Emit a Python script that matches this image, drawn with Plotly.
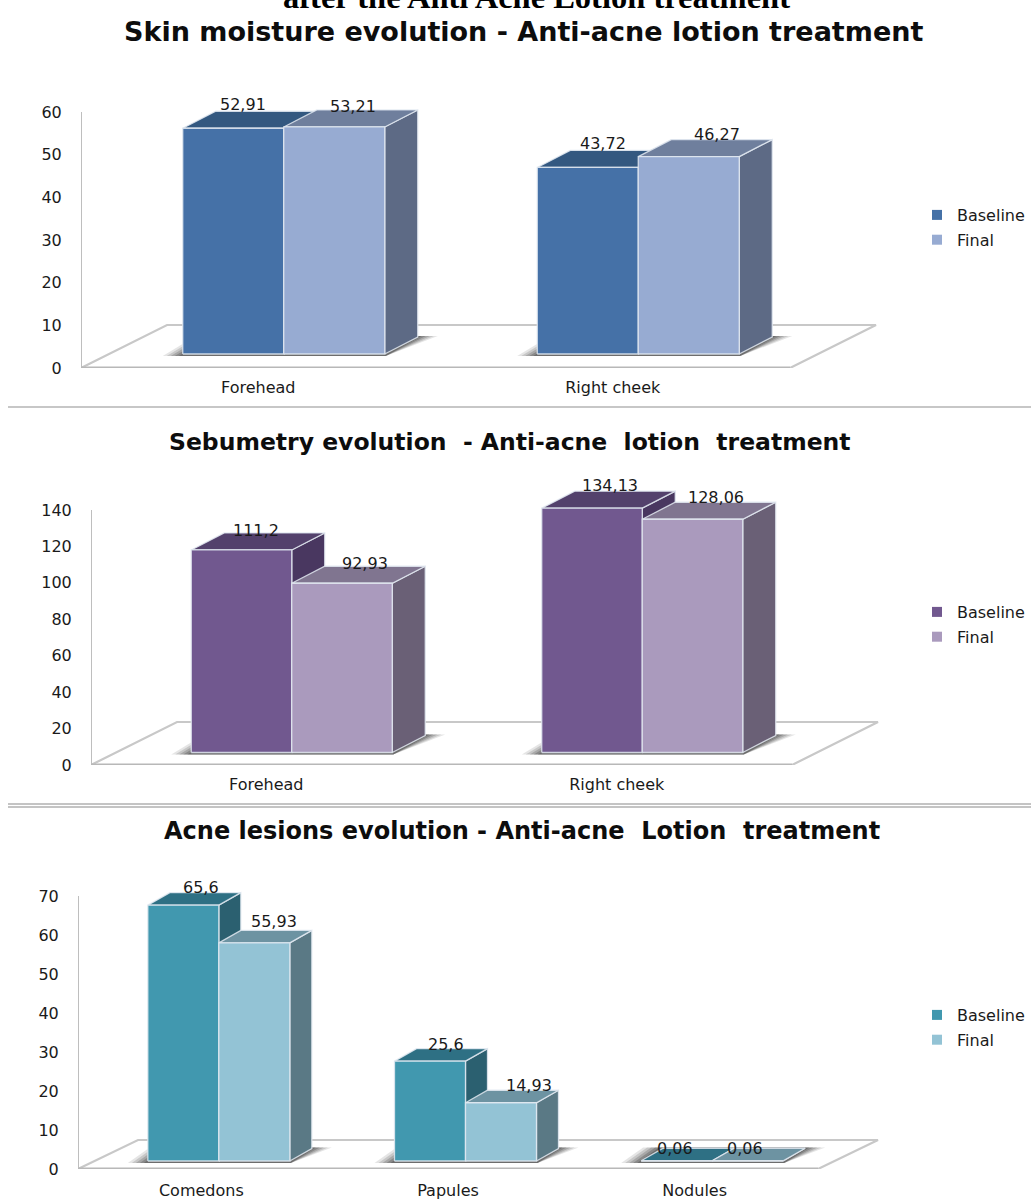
import plotly.graph_objects as go

WIDTH, HEIGHT = 1031, 1203
SANS = "DejaVu Sans"
TEXT_SIZE = 16

# Values per panel
moisture_categories = ["Forehead", "Right cheek"]
moisture_baseline = [52.91, 43.72]
moisture_final = [53.21, 46.27]

sebum_categories = ["Forehead", "Right cheek"]
sebum_baseline = [111.2, 134.13]
sebum_final = [92.93, 128.06]

lesion_categories = ["Comedons", "Papules", "Nodules"]
lesion_baseline = [65.6, 25.6, 0.06]
lesion_final = [55.93, 14.93, 0.06]

moisture_ticks = [0, 10, 20, 30, 40, 50, 60]
sebum_ticks = [0, 20, 40, 60, 80, 100, 120, 140]
lesion_ticks = [0, 10, 20, 30, 40, 50, 60, 70]

# Panel geometry in page pixels, and the colour of each bar face
PANELS = [
    dict(cats=moisture_categories, base=moisture_baseline, final=moisture_final, ticks=moisture_ticks,
         title="Skin moisture evolution - Anti-acne lotion treatment", title_y=31, title_x=523, title_size=27,
         left=81, right=790, top=112, bottom=368,
         floor_dx=86, floor_dy=43, bar_w=101, bar_shift=25.5, bar_lift=14, depth_x=33, depth_y=17,
         legend_y=198, tick_len=5,
         label_shift=[[(10, 24), (15, 24)], [(19, 20), (28, 22)]],
         c=dict(b_front="#4571A7", b_top="#335880", b_side="#2F5078",
                f_front="#97ABD2", f_top="#6F7F9D", f_side="#5D6A85")),
    dict(cats=sebum_categories, base=sebum_baseline, final=sebum_final, ticks=sebum_ticks,
         title="Sebumetry evolution\u00a0 - Anti-acne\u00a0 lotion\u00a0 treatment", title_y=442, title_x=510, title_size=23.5,
         left=91, right=792, top=510, bottom=765,
         floor_dx=86, floor_dy=43, bar_w=100.5, bar_shift=25.5, bar_lift=12.5, depth_x=33, depth_y=17,
         legend_y=595, tick_len=5,
         label_shift=[[(14, 19), (18, 23)], [(23, 20), (23, 22)]],
         c=dict(b_front="#71588F", b_top="#53416C", b_side="#493760",
                f_front="#AA9ABD", f_top="#807590", f_side="#6A6076")),
    dict(cats=lesion_categories, base=lesion_baseline, final=lesion_final, ticks=lesion_ticks,
         title="Acne lesions evolution - Anti-acne\u00a0 Lotion\u00a0 treatment", title_y=831, title_x=522, title_size=24,
         left=78, right=818, top=896, bottom=1169,
         floor_dx=60, floor_dy=29, bar_w=71, bar_shift=17.5, bar_lift=8, depth_x=22, depth_y=12.5,
         legend_y=998, tick_len=7,
         label_shift=[[(18, 18), (16, 17), (-2, 12)], [(20, 21), (28, 17), (-3, 12)]],
         c=dict(b_front="#4198AF", b_top="#2E7084", b_side="#2B6070",
                f_front="#93C3D5", f_top="#6D93A2", f_side="#5A7985")),
]

# Room kept inside each axes rectangle for the 3-D overhang
PAD_TOP_PX, PAD_RIGHT_PX = 45, 100

fig = go.Figure()
shapes, annotations, layout_axes = [], [], {}
OUTLINE = "rgba(226,233,241,0.85)"


def polygon(points, fill, xa, ya, line=OUTLINE, width=1.3):
    """Filled closed polygon in data coordinates."""
    xs = [p[0] for p in points] + [points[0][0]]
    ys = [p[1] for p in points] + [points[0][1]]
    fig.add_trace(go.Scatter(
        x=xs, y=ys, mode="lines", fill="toself", fillcolor=fill,
        line=dict(color=line, width=width), hoverinfo="skip", showlegend=False, xaxis=xa, yaxis=ya))


def polyline(xs, ys, colour, width, xa, ya):
    fig.add_trace(go.Scatter(
        x=xs, y=ys, mode="lines", line=dict(color=colour, width=width),
        hoverinfo="skip", showlegend=False, xaxis=xa, yaxis=ya))


for i, p in enumerate(PANELS):
    n = i + 1
    xa, ya = f"x{n if n > 1 else ''}", f"y{n if n > 1 else ''}"
    ncat = len(p["cats"])
    ymax = p["ticks"][-1]
    ux = (p["right"] - p["left"]) / ncat   # pixels per category
    uy = (p["bottom"] - p["top"]) / ymax   # pixels per value unit
    fx, fy = p["floor_dx"] / ux, p["floor_dy"] / uy
    w, shift, lift = p["bar_w"] / ux, p["bar_shift"] / ux, p["bar_lift"] / uy
    dx, dy = p["depth_x"] / ux, p["depth_y"] / uy

    # Wall edge and floor of the 3-D plot area
    polyline([0, 0], [0, ymax], "#BEBEBE", 2, xa, ya)
    polyline([0, fx, ncat + fx, ncat], [0, fy, fy, 0], "#C8C8C8", 2.2, xa, ya)
    polyline([0, ncat], [0, 0], "#B8B8B8", 3, xa, ya)

    for k in range(ncat):
        x_mid = k + 0.5 + shift
        b, f = p["base"][k], p["final"][k]
        x0, x1, x2 = x_mid - w, x_mid, x_mid + w
        c = p["c"]

        # Soft contact shadow: the footprint skewed outwards, darker towards the bars
        for grow, alpha in ((1.0, 0.12), (0.8, 0.16), (0.6, 0.2), (0.4, 0.25), (0.2, 0.3)):
            ox = grow * 20 / ux
            low = 2 / uy
            polygon([(x0 - ox, lift - low), (x2 + 1 / ux, lift - low),
                     (x2 + dx + ox, lift + dy + 1 / uy), (x0 - ox + dx, lift + dy + 1 / uy)],
                    f"rgba(45,45,45,{alpha})", xa, ya, line="rgba(0,0,0,0)", width=0)

        # Back-to-front painting so the nearer faces cover the farther ones
        def slab(xl, xr, val, top, side):
            y = lift + val
            polygon([(xr, lift), (xr + dx, lift + dy), (xr + dx, y + dy), (xr, y)], side, xa, ya)
            polygon([(xl, y), (xr, y), (xr + dx, y + dy), (xl + dx, y + dy)], top, xa, ya)

        slab(x0, x1, b, c["b_top"], c["b_side"])
        slab(x1, x2, f, c["f_top"], c["f_side"])
        polygon([(x0, lift), (x1, lift), (x1, lift + b), (x0, lift + b)], c["b_front"], xa, ya)
        polygon([(x1, lift), (x2, lift), (x2, lift + f), (x1, lift + f)], c["f_front"], xa, ya)

        # Value labels
        for s, (val, cx) in enumerate(((b, x_mid - w / 2), (f, x_mid + w / 2))):
            sx, sy = p["label_shift"][s][k]
            annotations.append(dict(
                x=cx, y=lift + val, xref=xa, yref=ya, text=f"{val}".replace(".", ","),
                showarrow=False, xanchor="center", yanchor="middle", xshift=sx, yshift=sy,
                font=dict(family=SANS, size=TEXT_SIZE, color="#1a1a1a")))

    # Legend swatches
    legend_name = "legend" if n == 1 else f"legend{n}"
    for name, colour in (("Baseline", p["c"]["b_front"]), ("Final", p["c"]["f_front"])):
        fig.add_trace(go.Scatter(
            x=[None], y=[None], mode="markers", name=name, legend=legend_name, legendgroup=name,
            marker=dict(symbol="square", size=10, color=colour), xaxis=xa, yaxis=ya))
    layout_axes[legend_name] = dict(
        x=(957 - 40) / WIDTH, xanchor="left", y=1 - p["legend_y"] / HEIGHT, yanchor="top",
        bgcolor="rgba(0,0,0,0)", borderwidth=0, tracegroupgap=1, traceorder="grouped",
        font=dict(family=SANS, size=TEXT_SIZE, color="#1a1a1a"), itemclick=False, itemdoubleclick=False)

    # Axes: the ranges run past the last category and tick so the overhang stays inside
    layout_axes[f"xaxis{n if n > 1 else ''}"] = dict(
        domain=[p["left"] / WIDTH, (p["right"] + PAD_RIGHT_PX) / WIDTH],
        range=[0, ncat + PAD_RIGHT_PX / ux], anchor=ya,
        tickmode="array", tickvals=[k + 0.5 for k in range(ncat)], ticktext=p["cats"],
        ticks="outside", ticklen=p["tick_len"], tickcolor="rgba(0,0,0,0)", showgrid=False, zeroline=False,
        showline=False, tickfont=dict(family=SANS, size=TEXT_SIZE, color="#1a1a1a"))
    layout_axes[f"yaxis{n if n > 1 else ''}"] = dict(
        domain=[1 - p["bottom"] / HEIGHT, 1 - (p["top"] - PAD_TOP_PX) / HEIGHT],
        range=[0, ymax + PAD_TOP_PX / uy], anchor=xa,
        tickmode="array", tickvals=p["ticks"], ticks="outside", ticklen=15,
        tickcolor="rgba(0,0,0,0)", showgrid=False, zeroline=False, showline=False,
        tickfont=dict(family=SANS, size=TEXT_SIZE, color="#1a1a1a"))

    annotations.append(dict(
        x=p["title_x"] / WIDTH, y=1 - p["title_y"] / HEIGHT, xref="paper", yref="paper", text=p["title"],
        showarrow=False, xanchor="center", yanchor="middle",
        font=dict(family=SANS, size=p["title_size"], color="#0d0d0d", weight="bold")))

# Heading carried over from the page above, cut by the top edge
annotations.append(dict(
    x=536 / WIDTH, y=1 + 3 / HEIGHT, xref="paper", yref="paper", text="after the Anti Acne Lotion treatment",
    showarrow=False, xanchor="center", yanchor="middle",
    font=dict(family="Liberation Serif", size=32.5, color="#000000", weight="bold")))

# Rules between the panels
for y_px, colour in ((407, "#B5B5B5"), (804, "#B0B0B0"), (807, "#B0B0B0")):
    shapes.append(dict(type="line", xref="paper", yref="paper", x0=8 / WIDTH, x1=1,
                       y0=1 - y_px / HEIGHT, y1=1 - y_px / HEIGHT, line=dict(color=colour, width=1.5)))

fig.update_layout(
    width=WIDTH, height=HEIGHT, margin=dict(l=0, r=0, t=0, b=0, autoexpand=False), autosize=False,
    paper_bgcolor="white", plot_bgcolor="rgba(0,0,0,0)", shapes=shapes, annotations=annotations,
    showlegend=True, **layout_axes)

fig.write_html("out.html", config=dict(displayModeBar=False))
